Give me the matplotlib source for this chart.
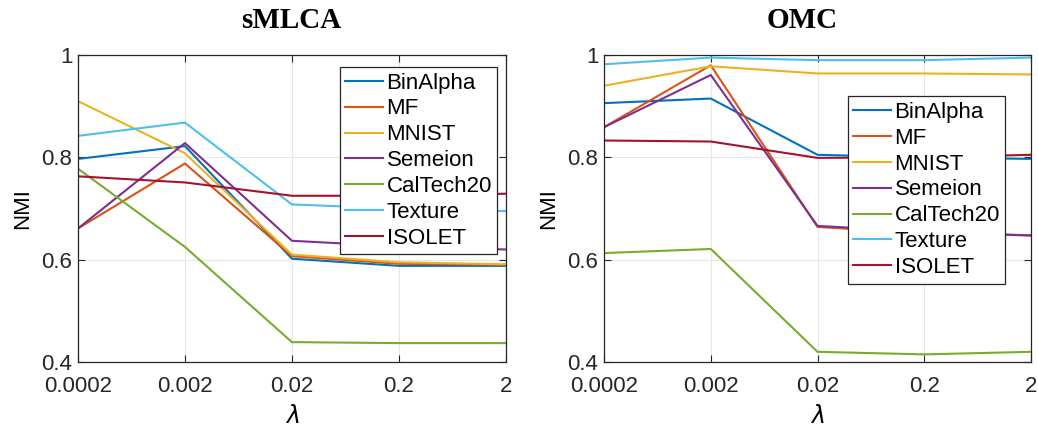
import matplotlib
matplotlib.use("Agg")
import matplotlib.pyplot as plt

plt.rcParams['font.family'] = ['Liberation Sans', 'DejaVu Sans']

lambdas = ["0.0002", "0.002", "0.02", "0.2", "2"]
datasets = ["BinAlpha", "MF", "MNIST", "Semeion", "CalTech20", "Texture", "ISOLET"]
colors = ["#0072BD", "#D95319", "#EDB120", "#7E2F8E", "#77AC30", "#4DBEEE", "#A2142F"]

# NMI values
smlca_binalpha = [0.797, 0.822, 0.602, 0.588, 0.588]
smlca_mf = [0.661, 0.788, 0.607, 0.592, 0.590]
smlca_mnist = [0.910, 0.808, 0.610, 0.595, 0.591]
smlca_semeion = [0.661, 0.828, 0.637, 0.626, 0.620]
smlca_caltech20 = [0.778, 0.625, 0.439, 0.437, 0.437]
smlca_texture = [0.842, 0.868, 0.708, 0.700, 0.695]
smlca_isolet = [0.763, 0.751, 0.725, 0.725, 0.729]

omc_binalpha = [0.906, 0.915, 0.805, 0.800, 0.797]
omc_mf = [0.859, 0.980, 0.664, 0.652, 0.648]
omc_mnist = [0.940, 0.978, 0.964, 0.964, 0.962]
omc_semeion = [0.859, 0.961, 0.666, 0.655, 0.647]
omc_caltech20 = [0.613, 0.621, 0.420, 0.415, 0.420]
omc_texture = [0.982, 0.995, 0.990, 0.990, 0.995]
omc_isolet = [0.833, 0.831, 0.799, 0.800, 0.805]

smlca = [smlca_binalpha, smlca_mf, smlca_mnist, smlca_semeion,
         smlca_caltech20, smlca_texture, smlca_isolet]
omc = [omc_binalpha, omc_mf, omc_mnist, omc_semeion,
       omc_caltech20, omc_texture, omc_isolet]

fig = plt.figure(figsize=(10.38, 4.30), dpi=100)
ax1 = fig.add_axes([0.0751, 0.158, 0.4123, 0.714])
ax2 = fig.add_axes([0.5819, 0.158, 0.4114, 0.714])

x = list(range(len(lambdas)))


def draw(ax, series, leg_pos):
    for name, vals, c in zip(datasets, series, colors):
        ax.plot(x, vals, color=c, lw=1.5, label=name)
    ax.set_xlim(0, 4)
    ax.set_ylim(0.4, 1.0)
    ax.set_xticks(x)
    ax.set_xticklabels(lambdas)
    ax.set_yticks([0.4, 0.6, 0.8, 1.0])
    ax.set_yticklabels(["0.4", "0.6", "0.8", "1"])
    ax.tick_params(direction='in', length=5, labelsize=16, colors='#262626',
                   top=True, right=True, pad=4)
    ax.tick_params(axis='x', pad=10)
    ax.grid(True, color='#e6e6e6', lw=0.8)
    ax.set_axisbelow(True)
    for s in ax.spines.values():
        s.set_color('#262626')
        s.set_linewidth(0.9)
    ax.set_xlabel(r"$\lambda$", fontsize=17, labelpad=6)
    ax.set_ylabel("NMI", fontsize=16, labelpad=6)
    leg = ax.legend(loc='upper left', bbox_to_anchor=leg_pos, fontsize=16,
                    frameon=True, fancybox=False, borderaxespad=0,
                    handlelength=1.7, handletextpad=0.15, labelspacing=0.22,
                    borderpad=0.25)
    leg.get_frame().set_edgecolor('#262626')
    leg.get_frame().set_linewidth(0.9)
    leg.get_frame().set_alpha(1)


draw(ax1, smlca, (0.612, 0.961))
draw(ax2, omc, (0.571, 0.866))

fig.text(0.281, 0.953, "sMLCA", family='Liberation Serif', weight='bold',
         fontsize=21, ha='center', va='center')
fig.text(0.773, 0.953, "OMC", family='Liberation Serif', weight='bold',
         fontsize=21, ha='center', va='center')

fig.savefig("out.png", dpi=100)
